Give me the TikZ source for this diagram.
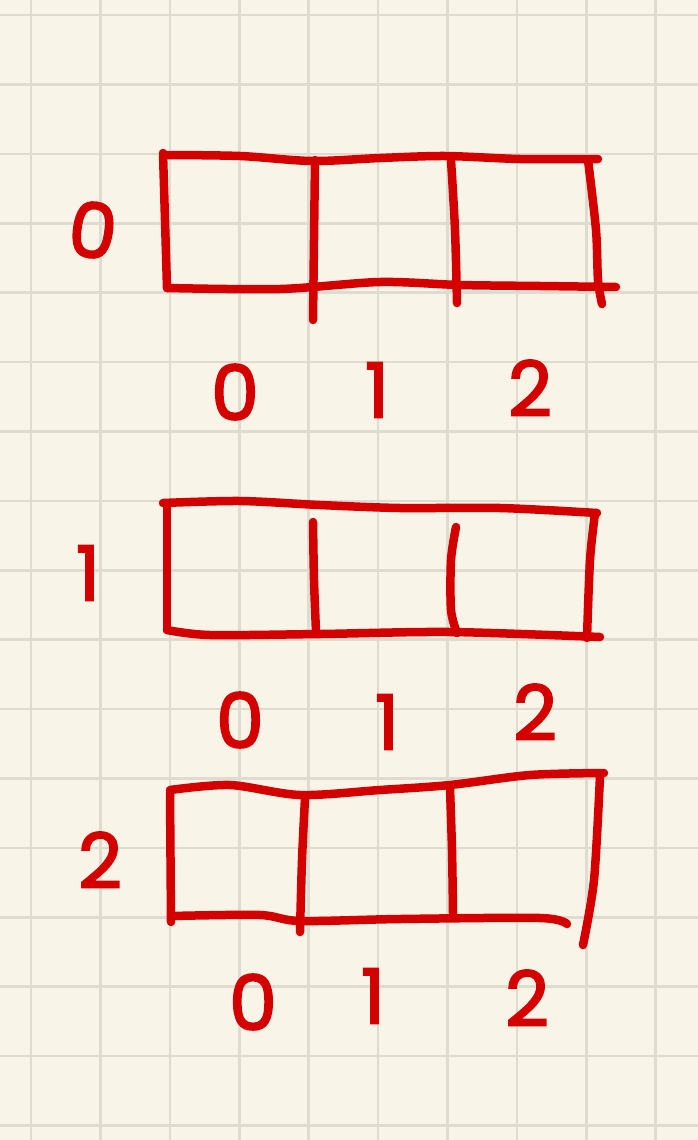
\documentclass[tikz,border=0pt]{standalone}
\usepackage{fontspec}
\setmainfont{Poppins}
\newfontfamily\digfont[FakeBold=2.5]{Poppins}
\begin{document}
\begin{tikzpicture}[x=1pt,y=-1pt,
  ink/.style={draw=penred,line width=8.5pt,line cap=round,line join=round},
  gridline/.style={draw=gridgray,line width=2.6pt},
  digit/.style={text=penred,font=\fontsize{76}{76}\digfont,inner sep=0pt,anchor=center}]
\definecolor{penred}{HTML}{D40000}
\definecolor{paper}{HTML}{F8F5E8}
\definecolor{gridgray}{HTML}{DEDCD1}
\useasboundingbox (0,0) rectangle (698,1140);
\fill[paper] (0,0) rectangle (698,1140);
\foreach \i in {0,...,9} \draw[gridline] ({31+69.4*\i},0) -- ({31+69.4*\i},1140);
\foreach \j in {0,...,16} \draw[gridline] (0,{15+69.4*\j}) -- (698,{15+69.4*\j});
% ---- row 0 ----
\draw[ink] (163,153) -- (167,288);
\draw[ink] plot[smooth] coordinates {(166,155) (240,156) (312,161) (380,158) (445,156) (520,159) (598,159)};
\draw[ink] plot[smooth] coordinates {(167,288) (280,289) (380,282) (460,285) (540,286) (616,287)};
\draw[ink] plot[smooth] coordinates {(588,160) (596,230) (598,280) (602,304)};
\draw[ink] plot[smooth] coordinates {(315,160) (314,240) (313,320)};
\draw[ink] plot[smooth] coordinates {(451,160) (455,230) (457,303)};
\node[digit,rotate=-8] (r0) at (93,230) {0};
\node[digit] (c00) at (235,392) {0};
\node[digit] (c01) at (377,390) {1};
\node[digit] (c02) at (530,388) {2};
% ---- row 1 ----
\draw[ink] plot[smooth] coordinates {(163,503) (240,501) (320,505) (400,508) (500,508) (597,513)};
\draw[ink] (167,505) -- (167,630);
\draw[ink] plot[smooth] coordinates {(167,630) (210,635) (320,634) (450,632) (600,637)};
\draw[ink] plot[smooth] coordinates {(595,513) (590,560) (587,638)};
\draw[ink] plot[smooth] coordinates {(313,522) (314,580) (316,632)};
\draw[ink] plot[smooth] coordinates {(456,527) (451,560) (451,610) (457,633)};
\node[digit] (r1) at (88,573) {1};
\node[digit] (c10) at (240,720) {0};
\node[digit] (c11) at (387,722) {1};
\node[digit] (c12) at (535,712) {2};
% ---- row 2 ----
\draw[ink] plot[smooth] coordinates {(170,790) (230,785) (300,795) (380,790) (450,785) (530,775) (604,773)};
\draw[ink] (170,793) -- (171,922);
\draw[ink] plot[smooth] coordinates {(171,916) (260,915) (300,921) (400,919) (540,918) (567,924)};
\draw[ink] plot[smooth] coordinates {(600,776) (594,880) (583,945)};
\draw[ink] plot[smooth] coordinates {(305,798) (302,860) (300,932)};
\draw[ink] plot[smooth] coordinates {(450,788) (452,850) (453,913)};
\node[digit] (r2) at (100,860) {2};
\node[digit] (c20) at (253,1002) {0};
\node[digit] (c21) at (373,996) {1};
\node[digit] (c22) at (527,998) {2};
\end{tikzpicture}
\end{document}
